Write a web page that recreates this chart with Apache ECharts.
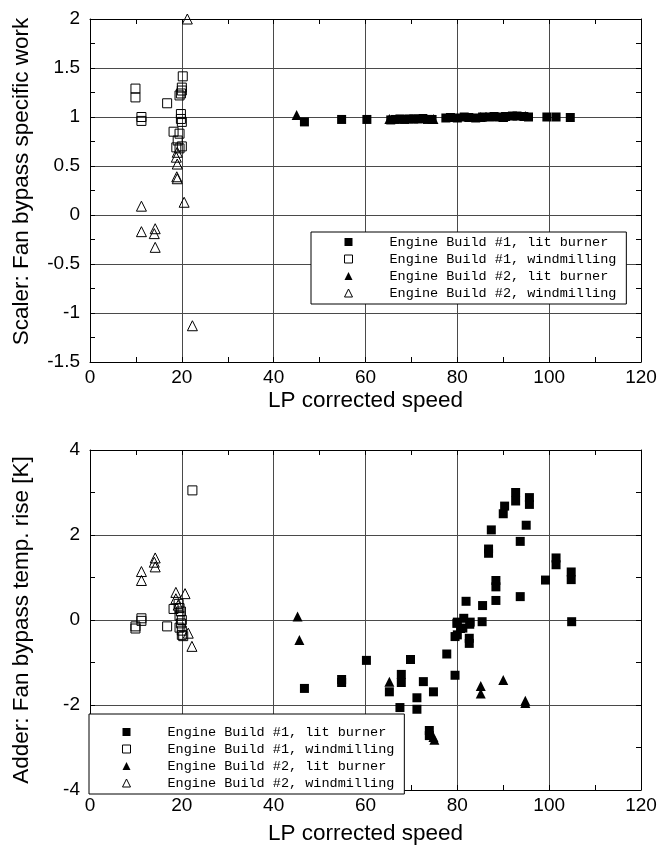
<!DOCTYPE html>
<html>
<head>
<meta charset="utf-8">
<script src="https://cdn.jsdelivr.net/npm/echarts@6/dist/echarts.min.js"></script>
<style>html,body{margin:0;padding:0;background:#fff}#c{width:663px;height:846px}</style>
</head>
<body>
<div id="c"></div>
<script>
// ---------- data ----------
const seriesNames = [
  'Engine Build #1, lit burner',
  'Engine Build #1, windmilling',
  'Engine Build #2, lit burner',
  'Engine Build #2, windmilling'
];
const xTicks = [0, 20, 40, 60, 80, 100, 120];
const topYTicks = [-1.5, -1, -0.5, 0, 0.5, 1, 1.5, 2];
const botYTicks = [-4, -2, 0, 2, 4];

// Top chart: scaler
const topB1LitX = [46.7, 54.8, 60.3, 65.5, 66.5, 67.5, 68.5, 69.5, 70.5, 71.5, 72.5, 73.5, 74.5, 77.5, 78.5, 80, 81.5, 82.5, 84, 85.5, 87, 88, 89, 90.5, 92, 93, 94.5, 95.5, 99.5, 101.5, 104.6];
const topB1LitY = [0.95, 0.975, 0.975, 0.97, 0.975, 0.98, 0.975, 0.98, 0.98, 0.98, 0.985, 0.975, 0.975, 0.99, 0.995, 0.99, 1.0, 0.995, 0.99, 1.0, 1.0, 1.005, 1.0, 1.005, 1.01, 1.01, 1.005, 1.0, 1.0, 1.0, 0.995];
const topB1WindX = [9.9, 9.9, 11.2, 11.2, 16.8, 20.2, 20.0, 20.0, 19.5, 19.8, 19.8, 19.8, 20.0, 18.2, 19.5, 19.1, 18.8, 19.5, 20.0];
const topB1WindY = [1.29, 1.2, 1.0, 0.96, 1.14, 1.415, 1.30, 1.27, 1.22, 1.24, 1.03, 0.98, 0.95, 0.85, 0.83, 0.76, 0.69, 0.68, 0.70];
const topB2LitX = [45.0, 65.2, 74.8, 85.1, 90.0, 94.8];
const topB2LitY = [1.02, 0.98, 0.98, 1.0, 1.0, 1.01];
const topB2WindX = [21.2, 19.0, 18.8, 19.0, 18.9, 19.0, 11.2, 20.5, 11.2, 14.2, 14.0, 14.2, 22.3];
const topB2WindY = [2.0, 0.64, 0.59, 0.52, 0.39, 0.37, 0.09, 0.13, -0.17, -0.14, -0.19, -0.33, -1.13];

// Bottom chart: adder
const botB1LitX = [46.7, 54.8, 54.8, 60.2, 65.2, 67.5, 67.8, 67.8, 69.8, 71.2, 71.2, 72.6, 73.9, 73.9, 74.8, 77.7, 79.5, 79.5, 79.9, 80.0, 80.0, 80.7, 81.2, 81.4, 81.9, 82.6, 82.6, 82.7, 82.8, 85.4, 85.5, 86.8, 86.8, 87.4, 88.4, 88.4, 88.4, 90.0, 90.3, 92.7, 92.7, 93.7, 93.7, 95.0, 95.7, 95.7, 99.2, 101.5, 101.5, 104.8, 104.8, 104.9];
const botB1LitY = [-1.61, -1.4, -1.47, -0.95, -1.69, -2.06, -1.28, -1.47, -0.93, -1.83, -2.1, -1.45, -2.6, -2.72, -1.69, -0.8, -1.3, -0.39, -0.08, -0.05, -0.35, -0.2, -0.19, 0.04, 0.44, -0.43, -0.55, -0.1, -0.05, -0.04, 0.34, 1.67, 1.57, 2.12, 0.93, 0.78, 0.46, 2.5, 2.68, 3.0, 2.8, 1.85, 0.55, 2.23, 2.88, 2.72, 0.94, 1.46, 1.3, 1.13, 0.95, -0.04];
const botB1WindX = [22.3, 9.9, 9.9, 11.2, 11.2, 16.8, 18.2, 19.3, 19.5, 19.8, 19.5, 20.0, 19.8, 19.5, 20.0, 20.0, 20.3];
const botB1WindY = [3.05, -0.15, -0.2, 0.04, -0.02, -0.15, 0.26, 0.38, 0.28, 0.2, 0.1, 0.0, -0.08, -0.18, -0.25, -0.35, -0.38];
const botB2LitX = [45.2, 45.6, 65.2, 74.8, 75.0, 85.1, 85.1, 90.0, 94.8, 94.8];
const botB2LitY = [0.08, -0.47, -1.45, -2.75, -2.82, -1.55, -1.73, -1.41, -1.9, -1.95];
const botB2WindX = [14.2, 14.0, 14.2, 11.2, 11.2, 18.7, 20.7, 18.7, 19.2, 21.4, 22.2];
const botB2WindY = [1.46, 1.36, 1.25, 1.14, 0.93, 0.65, 0.62, 0.5, 0.35, -0.31, -0.62];

// ---------- build ----------
const zip = (xs, ys) => xs.map((x, i) => [x, ys[i]]);
const SANS = 'Liberation Sans';
const MONO = 'Liberation Mono';
const GRID_COL = '#4a4a4a';

const filled = { color: '#000', opacity: 1 };
const open = { color: 'rgba(0,0,0,0)', borderColor: '#000', borderWidth: 1, opacity: 1 };
const styles = [
  { symbol: 'rect', size: 9, item: filled },
  { symbol: 'rect', size: 9, item: open },
  { symbol: 'triangle', size: 10, item: filled },
  { symbol: 'triangle', size: 10, item: open }
];

function xAxes(gridIndex, name, nameGap) {
  const common = {
    type: 'value', gridIndex, min: xTicks[0], max: xTicks[xTicks.length - 1], interval: xTicks[1] - xTicks[0],
    axisLine: { show: true, onZero: false, lineStyle: { color: '#000', width: 1 } },
    axisTick: { show: true, inside: true, length: 5, lineStyle: { color: '#000' } },
    minorTick: { show: true, splitNumber: 2, length: 5, lineStyle: { color: '#000' } }
  };
  return [
    Object.assign({}, common, {
      position: 'bottom', name, nameLocation: 'middle', nameGap,
      nameTextStyle: { fontFamily: SANS, fontSize: 22.5, color: '#000' },
      axisLabel: { fontFamily: SANS, fontSize: 19, color: '#000', margin: 6 },
      splitLine: { show: true, lineStyle: { color: GRID_COL, width: 1 } }
    }),
    Object.assign({}, common, { position: 'top', axisLabel: { show: false }, splitLine: { show: false } })
  ];
}
function yAxes(gridIndex, ticks, name, namePad) {
  const common = {
    type: 'value', gridIndex, min: ticks[0], max: ticks[ticks.length - 1], interval: ticks[1] - ticks[0],
    axisLine: { show: true, onZero: false, lineStyle: { color: '#000', width: 1 } },
    axisTick: { show: true, inside: true, length: 5, lineStyle: { color: '#000' } },
    minorTick: { show: true, splitNumber: 2, length: 5, lineStyle: { color: '#000' } }
  };
  return [
    Object.assign({}, common, {
      position: 'left', name, nameLocation: 'middle', nameGap: 57,
      nameTextStyle: { fontFamily: SANS, fontSize: 22.5, color: '#000', padding: namePad },
      axisLabel: { fontFamily: SANS, fontSize: 19, color: '#000', margin: 10 },
      splitLine: { show: true, lineStyle: { color: GRID_COL, width: 1 } }
    }),
    Object.assign({}, common, { position: 'right', axisLabel: { show: false }, splitLine: { show: false } })
  ];
}

const topSets = [zip(topB1LitX, topB1LitY), zip(topB1WindX, topB1WindY), zip(topB2LitX, topB2LitY), zip(topB2WindX, topB2WindY)];
const botSets = [zip(botB1LitX, botB1LitY), zip(botB1WindX, botB1WindY), zip(botB2LitX, botB2LitY), zip(botB2WindX, botB2WindY)];

const series = [];
[topSets, botSets].forEach((sets, g) => {
  sets.forEach((data, i) => {
    series.push({
      type: 'scatter', name: seriesNames[i], xAxisIndex: g * 2, yAxisIndex: g * 2,
      symbol: styles[i].symbol, symbolSize: styles[i].size, itemStyle: styles[i].item,
      data, z: 3, silent: true
    });
  });
});

function legend(left, top, padding) {
  return {
    data: seriesNames, orient: 'vertical', left, top, padding,
    backgroundColor: '#fff', borderColor: '#000', borderWidth: 1,
    itemWidth: 8, itemHeight: 8, itemGap: 3,
    itemStyle: { borderWidth: 1 },
    textStyle: { fontFamily: MONO, fontSize: 13.5, color: '#000', lineHeight: 14, padding: [0, 0, 0, 32] },
    selectedMode: false, z: 10
  };
}

const chart = echarts.init(document.getElementById('c'), null, { renderer: 'canvas' });
chart.setOption({
  animation: false,
  backgroundColor: '#fff',
  grid: [
    { left: 90, top: 19, width: 551, height: 343 },
    { left: 90, top: 450, width: 551, height: 343 }
  ],
  xAxis: [...xAxes(0, 'LP corrected speed', 27), ...xAxes(1, 'LP corrected speed', 32)],
  yAxis: [...yAxes(0, topYTicks, 'Scaler: Fan bypass specific work', [0, 0, 0, 18]), ...yAxes(1, botYTicks, 'Adder: Fan bypass temp. rise [K]', 0)],
  legend: [legend(311, 232, [3, 10, 4, 33]), legend(89, 714, [11, 10, 4, 33])],
  series
});
</script>
</body>
</html>
